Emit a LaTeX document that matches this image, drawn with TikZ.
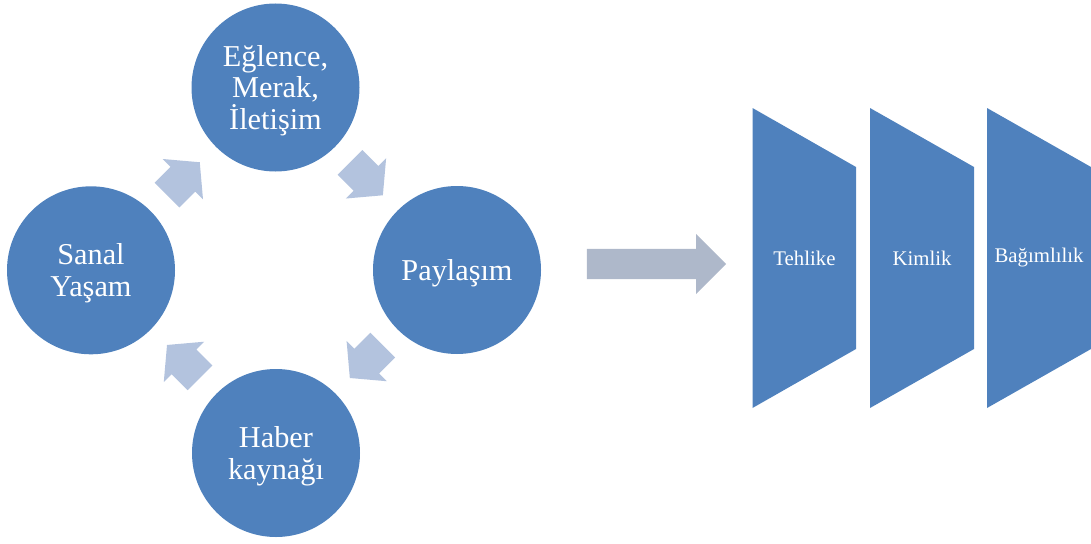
\documentclass[tikz,border=0pt]{standalone}
\usepackage{fontspec}
\setmainfont{Liberation Serif}
\usetikzlibrary{shapes.arrows,calc}
\definecolor{cblue}{HTML}{4F81BD}
\definecolor{larrow}{HTML}{B3C3DE}
\definecolor{garrow}{HTML}{AEB8CA}
\begin{document}
\begin{tikzpicture}[x=1pt,y=-1pt,
  circ/.style={circle,fill=cblue,draw=none,minimum size=168pt,inner sep=0pt},
  circtext/.style={text=white,align=center,inner sep=0pt,yshift=-3pt,font=\fontsize{30.3}{31.7}\selectfont},
  cycarrow/.style={single arrow,fill=larrow,draw=none,minimum height=46.5pt,single arrow head extend=11pt,single arrow tip angle=100,inner xsep=0pt,inner ysep=17.3pt,anchor=tail},
  bigarrow/.style={single arrow,fill=garrow,draw=none,minimum height=139.3pt,single arrow head extend=15pt,single arrow tip angle=90,inner xsep=0pt,inner ysep=14.85pt,anchor=tail},
  trapfill/.style={fill=cblue,draw=none},
  traptext/.style={text=white,font=\fontsize{20.8}{22}\selectfont,inner sep=0pt}]
\useasboundingbox (0,0) rectangle (1091,543);
% cycle circles
\node[circ] (top) at (275.5,87.5) {};
\node[circ] (right) at (457,270) {};
\node[circ] (bottom) at (276,453) {};
\node[circ] (left) at (91,270.3) {};
\node[circtext] (toptext) at (top) {Eğlence,\\Merak,\\İletişim};
\node[circtext] (righttext) at (right) {Paylaşım};
\node[circtext] (bottomtext) at (bottom) {Haber\\kaynağı};
\node[circtext] (lefttext) at (left) {Sanal\\Yaşam};
% tail points of cycle arrows
\coordinate (m1) at ($(left)!0.5!(top)$);
\coordinate (m2) at ($(top)!0.5!(right)$);
\coordinate (m3) at ($(right)!0.5!(bottom)$);
\coordinate (m4) at ($(bottom)!0.5!(left)$);
\coordinate (s1) at ($(m1)!-23.25pt!(top)$);
\coordinate (s2) at ($(m2)!-23.25pt!(right)$);
\coordinate (s3) at ($(m3)!-23.25pt!(bottom)$);
\coordinate (s4) at ($(m4)!-23.25pt!(left)$);
% cycle arrows
\node[cycarrow,rotate=45] (a1) at (s1) {};
\node[cycarrow,rotate=-45] (a2) at (s2) {};
\node[cycarrow,rotate=-135] (a3) at (s3) {};
\node[cycarrow,rotate=135] (a4) at (s4) {};
% big arrow
\coordinate (bigtail) at (586.7,264);
\node[bigarrow] (big) at (bigtail) {};
% trapezoids
\fill[trapfill] (752.5,108) -- (856,167) -- (856,349) -- (752.5,408) -- cycle;
\fill[trapfill] (870,108) -- (974,167) -- (974,349) -- (870,408) -- cycle;
\fill[trapfill] (987,108) -- (1091,167) -- (1091,349) -- (987,408) -- cycle;
\node[traptext] (t1) at (804.5,258) {Tehlike};
\node[traptext] (t2) at (922,258) {Kimlik};
\node[traptext] (t3) at (1039,258) {Bağımlılık};
\end{tikzpicture}
\end{document}
